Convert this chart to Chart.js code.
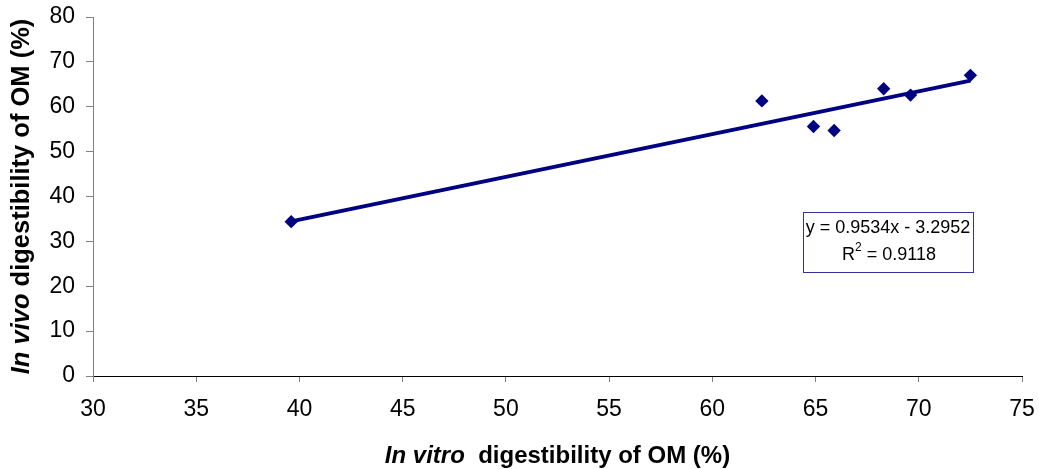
<!DOCTYPE html>
<html>
<head>
<meta charset="utf-8">
<script src="https://cdn.jsdelivr.net/npm/chart.js@4"></script>
<style>
  html, body { margin: 0; padding: 0; background: #fff; }
  #wrap { width: 1039px; height: 469px; position: relative; }
</style>
</head>
<body>
<div id="wrap"><canvas id="c" width="1039" height="469"></canvas></div>
<script>
// In vitro vs in vivo OM digestibility (%)
const inVitro = [39.6, 62.4, 64.9, 65.9, 68.3, 69.6, 72.5];
const inVivo  = [34.4, 61.3, 55.6, 54.7, 64.0, 62.6, 67.0];

// Linear fit reported on the chart
const slope = 0.9534;
const intercept = -3.2952;
const rSquared = 0.9118;

const xTicks = [30, 35, 40, 45, 50, 55, 60, 65, 70, 75];
const yTicks = [0, 10, 20, 30, 40, 50, 60, 70, 80];

const NAVY = '#000080';
const FONT = '"Liberation Sans", Arial, sans-serif';

const points = inVitro.map((x, i) => ({ x, y: inVivo[i] }));
const xMin = Math.min(...inVitro), xMax = Math.max(...inVitro);
const fitLine = [xMin, xMax].map(x => ({ x, y: slope * x + intercept }));

// Mixed-style axis titles and the equation box
const annotations = {
  id: 'annotations',
  afterDraw(chart) {
    const ctx = chart.ctx;
    const area = chart.chartArea;
    ctx.save();
    ctx.fillStyle = '#000';
    ctx.textBaseline = 'middle';

    function mixed(parts, cx, cy, rotate) {
      ctx.save();
      ctx.translate(cx, cy);
      if (rotate) ctx.rotate(-Math.PI / 2);
      let total = 0;
      parts.forEach(p => { ctx.font = p.font; total += ctx.measureText(p.text).width; });
      let x = -total / 2;
      ctx.textAlign = 'left';
      parts.forEach(p => { ctx.font = p.font; ctx.fillText(p.text, x, 0); x += ctx.measureText(p.text).width; });
      ctx.restore();
    }

    mixed([{ text: 'In vitro', font: 'italic bold 24px ' + FONT },
           { text: '  digestibility of OM (%)', font: 'bold 24px ' + FONT }],
      (area.left + area.right) / 2, 456, false);
    mixed([{ text: 'In vivo', font: 'italic bold 25.5px ' + FONT },
           { text: ' digestibility of OM (%)', font: 'bold 25.5px ' + FONT }],
      22, (area.top + area.bottom) / 2, true);

    // Equation box
    const bx = 803, by = 212, bw = 170, bh = 60;
    ctx.fillStyle = '#fff';
    ctx.fillRect(bx, by, bw, bh);
    ctx.strokeStyle = '#333399';
    ctx.lineWidth = 1;
    ctx.strokeRect(bx + 0.5, by + 0.5, bw, bh);
    ctx.fillStyle = '#000';
    const eqFont = '18px ' + FONT, supFont = '12px ' + FONT;
    ctx.font = eqFont;
    ctx.textAlign = 'center';
    const sign = intercept < 0 ? ' - ' : ' + ';
    ctx.fillText('y = ' + slope.toFixed(4) + 'x' + sign + Math.abs(intercept).toFixed(4), bx + bw / 2, by + 16);
    // R² line with superscript
    const r1 = 'R', r2 = '2', r3 = ' = ' + rSquared.toFixed(4);
    ctx.font = eqFont;
    const w1 = ctx.measureText(r1).width, w3 = ctx.measureText(r3).width;
    ctx.font = supFont;
    const w2 = ctx.measureText(r2).width;
    const sx = bx + bw / 2 - (w1 + w2 + w3) / 2 + 1;
    ctx.textAlign = 'left';
    ctx.font = eqFont;
    ctx.fillText(r1, sx, by + 43);
    ctx.font = supFont;
    ctx.fillText(r2, sx + w1, by + 36);
    ctx.font = eqFont;
    ctx.fillText(r3, sx + w1 + w2, by + 43);
    ctx.restore();
  }
};

new Chart(document.getElementById('c'), {
  type: 'scatter',
  data: {
    datasets: [
      {
        type: 'line',
        data: fitLine,
        borderColor: NAVY,
        borderWidth: 4,
        pointRadius: 0,
        fill: false,
        order: 2
      },
      {
        data: points,
        pointStyle: 'rectRot',
        pointRadius: 6.7,
        pointHoverRadius: 6.7,
        backgroundColor: NAVY,
        borderColor: NAVY,
        borderWidth: 0,
        order: 1
      }
    ]
  },
  options: {
    responsive: false,
    animation: false,
    events: [],
    layout: { padding: { top: 17, right: 17, left: 0, bottom: 0 } },
    plugins: { legend: { display: false }, tooltip: { enabled: false } },
    scales: {
      x: {
        type: 'linear',
        min: 30, max: 75,
        afterBuildTicks(s) { s.ticks = xTicks.map(v => ({ value: v })); },
        afterFit(s) { s.height = 93; s.paddingLeft = 0; s.paddingRight = 0; },
        grid: { drawOnChartArea: false, tickLength: 6, color: '#808080', tickWidth: 1 },
        border: { color: '#000', width: 1 },
        ticks: { font: { family: FONT, size: 23 }, color: '#000', padding: 14, maxRotation: 0 }
      },
      y: {
        type: 'linear',
        min: 0, max: 80,
        afterBuildTicks(s) { s.ticks = yTicks.map(v => ({ value: v })); },
        afterFit(s) { s.width = 93; s.paddingTop = 0; s.paddingBottom = 0; },
        grid: { drawOnChartArea: false, tickLength: 7, color: '#808080', tickWidth: 1 },
        border: { color: '#808080', width: 1 },
        ticks: { font: { family: FONT, size: 23 }, color: '#000', padding: 11 }
      }
    }
  },
  plugins: [annotations]
});
</script>
</body>
</html>
